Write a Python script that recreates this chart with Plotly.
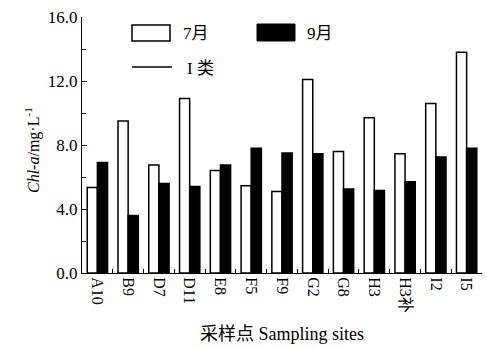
import plotly.graph_objects as go

sites = ["A10", "B9", "D7", "D11", "E8", "F5", "F9", "G2", "G8", "H3", "H3补", "I2", "I5"]
jul = [5.35, 9.5, 6.75, 10.9, 6.4, 5.45, 5.1, 12.1, 7.6, 9.7, 7.45, 10.6, 13.8]
sep = [6.9, 3.6, 5.6, 5.4, 6.75, 7.8, 7.5, 7.45, 5.25, 5.15, 5.7, 7.25, 7.8]
yticks = [0, 4, 8, 12, 16]
ytext = ["0.0", "4.0", "8.0", "12.0", "16.0"]

FONT = "'Liberation Serif', 'Times New Roman', 'Noto Sans CJK SC', serif"

fig = go.Figure()
fig.add_bar(x=sites, y=jul, name="7月", marker=dict(color="white", line=dict(color="black", width=1.5)))
fig.add_bar(x=sites, y=sep, name="9月", marker=dict(color="black", line=dict(color="black", width=1.5)))

fig.update_layout(
    width=487, height=349,
    margin=dict(l=82, r=5, t=17, b=76, autoexpand=False),
    paper_bgcolor="white", plot_bgcolor="white",
    barmode="group", bargap=0.34, bargroupgap=0,
    showlegend=False,
    font=dict(family=FONT, color="black", size=16),
)
fig.update_yaxes(
    range=[0, 16], tickvals=yticks, ticktext=ytext, automargin=False,
    showline=True, linecolor="black", linewidth=1.2,
    ticks="inside", ticklen=5, tickcolor="black",
    minor=dict(tickvals=[2, 6, 10, 14], ticks="inside", ticklen=4, tickcolor="black"),
    showgrid=False, zeroline=False,
    tickfont=dict(size=17, family=FONT),
)
fig.update_xaxes(
    automargin=False,
    showline=True, linecolor="black", linewidth=1.2,
    ticks="inside", ticklen=4, tickcolor="black", tickson="boundaries",
    tickangle=90, showgrid=False,
    tickfont=dict(size=16, family=FONT),
)

# custom legend
fig.add_shape(type="rect", xref="paper", yref="paper",
              x0=(132-82)/400, x1=(170-82)/400, y0=(273-41)/256, y1=(273-25)/256,
              line=dict(color="black", width=1.5), fillcolor="white")
fig.add_shape(type="rect", xref="paper", yref="paper",
              x0=(257-82)/400, x1=(295-82)/400, y0=(273-41)/256, y1=(273-24)/256,
              line=dict(color="black", width=1), fillcolor="black")
fig.add_shape(type="line", xref="paper", yref="paper",
              x0=(132-82)/400, x1=(172-82)/400, y0=(273-67)/256, y1=(273-67)/256,
              line=dict(color="black", width=1.5))
for txt, px, py in [("7月", 181, 33), ("9月", 305, 33), ("I 类", 185, 68)]:
    fig.add_annotation(text=txt, xref="paper", yref="paper",
                       x=(px-82)/400, y=(273-py)/256, xanchor="left", yanchor="middle",
                       showarrow=False, font=dict(size=17, family=FONT))

fig.add_annotation(text="<i>Chl-a</i>/mg·L<sup>-1</sup>", xref="paper", yref="paper",
                   x=(32-82)/400, y=(273-150)/256, textangle=-90,
                   xanchor="center", yanchor="middle", showarrow=False,
                   font=dict(size=16, family=FONT))
fig.add_annotation(text="采样点 Sampling sites", xref="paper", yref="paper",
                   x=(282-82)/400, y=-(334-273)/256, xanchor="center", yanchor="middle",
                   showarrow=False, font=dict(size=18, family=FONT))

fig.write_html("out.html", config={"displayModeBar": False},
               post_script="document.body.style.margin='0';")
